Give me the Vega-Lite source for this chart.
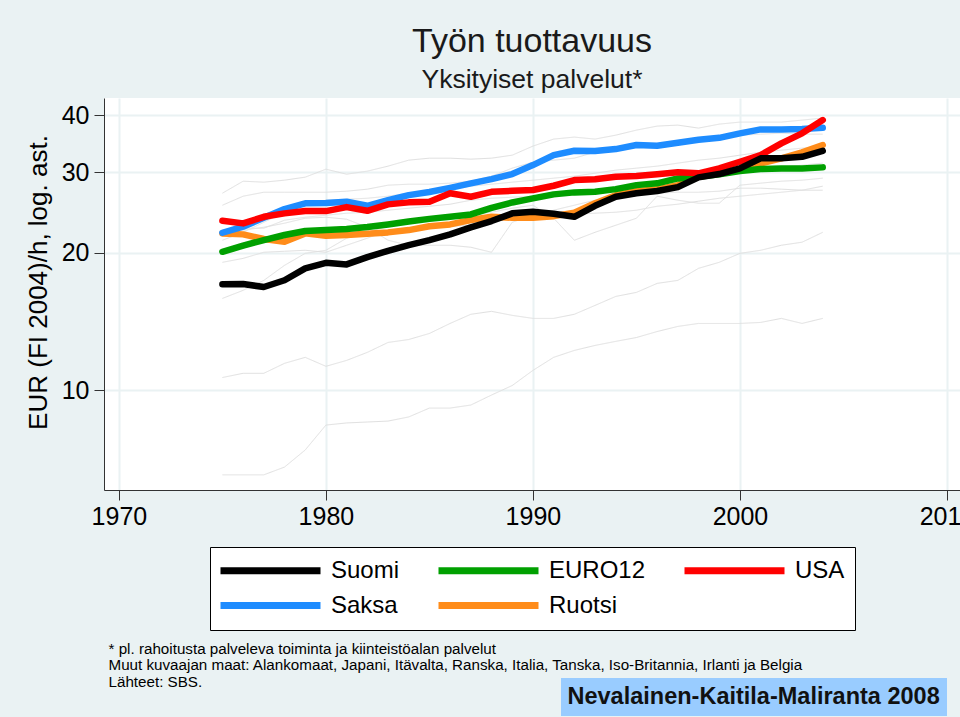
{
"$schema": "https://vega.github.io/schema/vega-lite/v6.json",
"width": 856, "height": 392,
"autosize": {"type": "none"},
"padding": {"left": 104, "top": 98, "right": 0, "bottom": 227},
"background": "#eaf2f3",
"config": {
 "font": "Liberation Sans",
 "view": {"fill": "white", "stroke": null},
 "axis": {"domainColor": "#333333", "domainWidth": 1, "tickColor": "#333333", "tickSize": 10, "tickWidth": 1, "labelFontSize": 25, "labelColor": "#000000", "gridColor": "#eaf2f3", "gridWidth": 2, "titleFontWeight": "normal", "titleColor": "#000000", "labelFlush": false}
},
"title": {"text": "Työn tuottavuus", "subtitle": "Yksityiset palvelut*", "fontSize": 34, "fontWeight": "normal", "subtitleFontSize": 26.5, "color": "#1a1a1a", "subtitleColor": "#1a1a1a", "anchor": "middle", "frame": "group", "offset": 5, "subtitlePadding": 8},
"datasets": {
"muut": [
{"maa":"Belgia","vuosi":1975,"arvo":26.98},{"maa":"Belgia","vuosi":1976,"arvo":28.66},{"maa":"Belgia","vuosi":1977,"arvo":28.52},{"maa":"Belgia","vuosi":1978,"arvo":28.81},{"maa":"Belgia","vuosi":1979,"arvo":29.25},{"maa":"Belgia","vuosi":1980,"arvo":30.45},{"maa":"Belgia","vuosi":1981,"arvo":29.69},{"maa":"Belgia","vuosi":1982,"arvo":30.15},{"maa":"Belgia","vuosi":1983,"arvo":30.92},{"maa":"Belgia","vuosi":1984,"arvo":31.87},{"maa":"Belgia","vuosi":1985,"arvo":32.19},{"maa":"Belgia","vuosi":1986,"arvo":32.19},{"maa":"Belgia","vuosi":1987,"arvo":32.03},{"maa":"Belgia","vuosi":1988,"arvo":32.19},{"maa":"Belgia","vuosi":1989,"arvo":32.68},{"maa":"Belgia","vuosi":1990,"arvo":34.21},{"maa":"Belgia","vuosi":1991,"arvo":35.44},{"maa":"Belgia","vuosi":1992,"arvo":35.80},{"maa":"Belgia","vuosi":1993,"arvo":35.44},{"maa":"Belgia","vuosi":1994,"arvo":36.15},{"maa":"Belgia","vuosi":1995,"arvo":37.08},{"maa":"Belgia","vuosi":1996,"arvo":37.84},{"maa":"Belgia","vuosi":1997,"arvo":38.03},{"maa":"Belgia","vuosi":1998,"arvo":37.46},{"maa":"Belgia","vuosi":1999,"arvo":38.22},{"maa":"Belgia","vuosi":2000,"arvo":38.61},{"maa":"Belgia","vuosi":2001,"arvo":38.61},{"maa":"Belgia","vuosi":2002,"arvo":38.61},{"maa":"Belgia","vuosi":2003,"arvo":39.00},{"maa":"Belgia","vuosi":2004,"arvo":39.40},
{"maa":"Alankomaat","vuosi":1975,"arvo":25.39},{"maa":"Alankomaat","vuosi":1976,"arvo":26.57},{"maa":"Alankomaat","vuosi":1977,"arvo":27.11},{"maa":"Alankomaat","vuosi":1978,"arvo":27.11},{"maa":"Alankomaat","vuosi":1979,"arvo":27.11},{"maa":"Alankomaat","vuosi":1980,"arvo":27.11},{"maa":"Alankomaat","vuosi":1981,"arvo":27.25},{"maa":"Alankomaat","vuosi":1982,"arvo":27.53},{"maa":"Alankomaat","vuosi":1983,"arvo":28.09},{"maa":"Alankomaat","vuosi":1984,"arvo":28.23},{"maa":"Alankomaat","vuosi":1985,"arvo":28.23},{"maa":"Alankomaat","vuosi":1986,"arvo":28.38},{"maa":"Alankomaat","vuosi":1987,"arvo":28.66},{"maa":"Alankomaat","vuosi":1988,"arvo":29.39},{"maa":"Alankomaat","vuosi":1989,"arvo":30.61},{"maa":"Alankomaat","vuosi":1990,"arvo":31.55},{"maa":"Alankomaat","vuosi":1991,"arvo":31.87},{"maa":"Alankomaat","vuosi":1992,"arvo":32.19},{"maa":"Alankomaat","vuosi":1993,"arvo":33.18},{"maa":"Alankomaat","vuosi":1994,"arvo":33.52},{"maa":"Alankomaat","vuosi":1995,"arvo":34.03},{"maa":"Alankomaat","vuosi":1996,"arvo":34.38},{"maa":"Alankomaat","vuosi":1997,"arvo":34.73},{"maa":"Alankomaat","vuosi":1998,"arvo":35.26},{"maa":"Alankomaat","vuosi":1999,"arvo":35.62},{"maa":"Alankomaat","vuosi":2000,"arvo":36.15},{"maa":"Alankomaat","vuosi":2001,"arvo":36.33},{"maa":"Alankomaat","vuosi":2002,"arvo":36.52},{"maa":"Alankomaat","vuosi":2003,"arvo":36.33},{"maa":"Alankomaat","vuosi":2004,"arvo":36.33},
{"maa":"Ranska","vuosi":1975,"arvo":22.38},{"maa":"Ranska","vuosi":1976,"arvo":22.61},{"maa":"Ranska","vuosi":1977,"arvo":22.61},{"maa":"Ranska","vuosi":1978,"arvo":23.54},{"maa":"Ranska","vuosi":1979,"arvo":23.90},{"maa":"Ranska","vuosi":1980,"arvo":24.14},{"maa":"Ranska","vuosi":1981,"arvo":24.39},{"maa":"Ranska","vuosi":1982,"arvo":24.51},{"maa":"Ranska","vuosi":1983,"arvo":24.76},{"maa":"Ranska","vuosi":1984,"arvo":25.01},{"maa":"Ranska","vuosi":1985,"arvo":25.26},{"maa":"Ranska","vuosi":1986,"arvo":25.52},{"maa":"Ranska","vuosi":1987,"arvo":26.04},{"maa":"Ranska","vuosi":1988,"arvo":26.30},{"maa":"Ranska","vuosi":1989,"arvo":26.44},{"maa":"Ranska","vuosi":1990,"arvo":26.57},{"maa":"Ranska","vuosi":1991,"arvo":26.70},{"maa":"Ranska","vuosi":1992,"arvo":26.84},{"maa":"Ranska","vuosi":1993,"arvo":26.98},{"maa":"Ranska","vuosi":1994,"arvo":27.39},{"maa":"Ranska","vuosi":1995,"arvo":27.95},{"maa":"Ranska","vuosi":1996,"arvo":28.38},{"maa":"Ranska","vuosi":1997,"arvo":28.81},{"maa":"Ranska","vuosi":1998,"arvo":29.10},{"maa":"Ranska","vuosi":1999,"arvo":29.39},{"maa":"Ranska","vuosi":2000,"arvo":29.99},{"maa":"Ranska","vuosi":2001,"arvo":30.61},{"maa":"Ranska","vuosi":2002,"arvo":30.76},{"maa":"Ranska","vuosi":2003,"arvo":31.07},{"maa":"Ranska","vuosi":2004,"arvo":31.39},
{"maa":"Itävalta","vuosi":1975,"arvo":15.87},{"maa":"Itävalta","vuosi":1976,"arvo":16.53},{"maa":"Itävalta","vuosi":1977,"arvo":17.38},{"maa":"Itävalta","vuosi":1978,"arvo":18.75},{"maa":"Itävalta","vuosi":1979,"arvo":19.92},{"maa":"Itävalta","vuosi":1980,"arvo":20.23},{"maa":"Itävalta","vuosi":1981,"arvo":21.50},{"maa":"Itävalta","vuosi":1982,"arvo":22.15},{"maa":"Itävalta","vuosi":1983,"arvo":22.84},{"maa":"Itävalta","vuosi":1984,"arvo":23.30},{"maa":"Itävalta","vuosi":1985,"arvo":23.54},{"maa":"Itävalta","vuosi":1986,"arvo":23.78},{"maa":"Itävalta","vuosi":1987,"arvo":24.14},{"maa":"Itävalta","vuosi":1988,"arvo":24.51},{"maa":"Itävalta","vuosi":1989,"arvo":25.01},{"maa":"Itävalta","vuosi":1990,"arvo":25.39},{"maa":"Itävalta","vuosi":1991,"arvo":23.78},{"maa":"Itävalta","vuosi":1992,"arvo":21.28},{"maa":"Itävalta","vuosi":1993,"arvo":22.15},{"maa":"Itävalta","vuosi":1994,"arvo":22.95},{"maa":"Itävalta","vuosi":1995,"arvo":23.78},{"maa":"Itävalta","vuosi":1996,"arvo":26.57},{"maa":"Itävalta","vuosi":1997,"arvo":26.04},{"maa":"Itävalta","vuosi":1998,"arvo":25.65},{"maa":"Itävalta","vuosi":1999,"arvo":25.65},{"maa":"Itävalta","vuosi":2000,"arvo":28.09},{"maa":"Itävalta","vuosi":2001,"arvo":28.38},{"maa":"Itävalta","vuosi":2002,"arvo":28.66},{"maa":"Itävalta","vuosi":2003,"arvo":28.81},{"maa":"Itävalta","vuosi":2004,"arvo":29.10},
{"maa":"Italia","vuosi":1975,"arvo":22.15},{"maa":"Italia","vuosi":1976,"arvo":22.38},{"maa":"Italia","vuosi":1977,"arvo":22.72},{"maa":"Italia","vuosi":1978,"arvo":23.19},{"maa":"Italia","vuosi":1979,"arvo":23.78},{"maa":"Italia","vuosi":1980,"arvo":23.90},{"maa":"Italia","vuosi":1981,"arvo":23.66},{"maa":"Italia","vuosi":1982,"arvo":22.72},{"maa":"Italia","vuosi":1983,"arvo":21.28},{"maa":"Italia","vuosi":1984,"arvo":20.75},{"maa":"Italia","vuosi":1985,"arvo":20.75},{"maa":"Italia","vuosi":1986,"arvo":20.75},{"maa":"Italia","vuosi":1987,"arvo":20.54},{"maa":"Italia","vuosi":1988,"arvo":20.03},{"maa":"Italia","vuosi":1989,"arvo":23.30},{"maa":"Italia","vuosi":1990,"arvo":24.14},{"maa":"Italia","vuosi":1991,"arvo":24.76},{"maa":"Italia","vuosi":1992,"arvo":25.39},{"maa":"Italia","vuosi":1993,"arvo":26.04},{"maa":"Italia","vuosi":1994,"arvo":26.44},{"maa":"Italia","vuosi":1995,"arvo":26.70},{"maa":"Italia","vuosi":1996,"arvo":26.98},{"maa":"Italia","vuosi":1997,"arvo":27.11},{"maa":"Italia","vuosi":1998,"arvo":27.11},{"maa":"Italia","vuosi":1999,"arvo":27.25},{"maa":"Italia","vuosi":2000,"arvo":27.67},{"maa":"Italia","vuosi":2001,"arvo":27.67},{"maa":"Italia","vuosi":2002,"arvo":27.53},{"maa":"Italia","vuosi":2003,"arvo":27.39},{"maa":"Italia","vuosi":2004,"arvo":27.39},
{"maa":"Tanska","vuosi":1975,"arvo":21.28},{"maa":"Tanska","vuosi":1976,"arvo":22.15},{"maa":"Tanska","vuosi":1977,"arvo":23.30},{"maa":"Tanska","vuosi":1978,"arvo":24.51},{"maa":"Tanska","vuosi":1979,"arvo":25.39},{"maa":"Tanska","vuosi":1980,"arvo":26.04},{"maa":"Tanska","vuosi":1981,"arvo":26.17},{"maa":"Tanska","vuosi":1982,"arvo":26.30},{"maa":"Tanska","vuosi":1983,"arvo":26.57},{"maa":"Tanska","vuosi":1984,"arvo":26.98},{"maa":"Tanska","vuosi":1985,"arvo":27.39},{"maa":"Tanska","vuosi":1986,"arvo":27.67},{"maa":"Tanska","vuosi":1987,"arvo":27.95},{"maa":"Tanska","vuosi":1988,"arvo":28.23},{"maa":"Tanska","vuosi":1989,"arvo":28.52},{"maa":"Tanska","vuosi":1990,"arvo":28.81},{"maa":"Tanska","vuosi":1991,"arvo":29.10},{"maa":"Tanska","vuosi":1992,"arvo":29.39},{"maa":"Tanska","vuosi":1993,"arvo":29.84},{"maa":"Tanska","vuosi":1994,"arvo":30.30},{"maa":"Tanska","vuosi":1995,"arvo":30.61},{"maa":"Tanska","vuosi":1996,"arvo":30.92},{"maa":"Tanska","vuosi":1997,"arvo":31.39},{"maa":"Tanska","vuosi":1998,"arvo":31.87},{"maa":"Tanska","vuosi":1999,"arvo":32.19},{"maa":"Tanska","vuosi":2000,"arvo":32.68},{"maa":"Tanska","vuosi":2001,"arvo":33.18},{"maa":"Tanska","vuosi":2002,"arvo":33.52},{"maa":"Tanska","vuosi":2003,"arvo":33.86},{"maa":"Tanska","vuosi":2004,"arvo":34.03},
{"maa":"Japani","vuosi":1975,"arvo":10.65},{"maa":"Japani","vuosi":1976,"arvo":10.88},{"maa":"Japani","vuosi":1977,"arvo":10.88},{"maa":"Japani","vuosi":1978,"arvo":11.44},{"maa":"Japani","vuosi":1979,"arvo":11.79},{"maa":"Japani","vuosi":1980,"arvo":11.27},{"maa":"Japani","vuosi":1981,"arvo":11.61},{"maa":"Japani","vuosi":1982,"arvo":12.09},{"maa":"Japani","vuosi":1983,"arvo":12.71},{"maa":"Japani","vuosi":1984,"arvo":12.90},{"maa":"Japani","vuosi":1985,"arvo":13.30},{"maa":"Japani","vuosi":1986,"arvo":13.99},{"maa":"Japani","vuosi":1987,"arvo":14.65},{"maa":"Japani","vuosi":1988,"arvo":14.87},{"maa":"Japani","vuosi":1989,"arvo":14.57},{"maa":"Japani","vuosi":1990,"arvo":14.35},{"maa":"Japani","vuosi":1991,"arvo":14.35},{"maa":"Japani","vuosi":1992,"arvo":14.65},{"maa":"Japani","vuosi":1993,"arvo":15.32},{"maa":"Japani","vuosi":1994,"arvo":16.03},{"maa":"Japani","vuosi":1995,"arvo":16.36},{"maa":"Japani","vuosi":1996,"arvo":17.12},{"maa":"Japani","vuosi":1997,"arvo":17.38},{"maa":"Japani","vuosi":1998,"arvo":18.47},{"maa":"Japani","vuosi":1999,"arvo":19.04},{"maa":"Japani","vuosi":2000,"arvo":19.92},{"maa":"Japani","vuosi":2001,"arvo":20.23},{"maa":"Japani","vuosi":2002,"arvo":20.75},{"maa":"Japani","vuosi":2003,"arvo":21.07},{"maa":"Japani","vuosi":2004,"arvo":22.15},
{"maa":"Irlanti","vuosi":1975,"arvo":6.52},{"maa":"Irlanti","vuosi":1976,"arvo":6.52},{"maa":"Irlanti","vuosi":1977,"arvo":6.52},{"maa":"Irlanti","vuosi":1978,"arvo":6.78},{"maa":"Irlanti","vuosi":1979,"arvo":7.39},{"maa":"Irlanti","vuosi":1980,"arvo":8.38},{"maa":"Irlanti","vuosi":1981,"arvo":8.47},{"maa":"Irlanti","vuosi":1982,"arvo":8.51},{"maa":"Irlanti","vuosi":1983,"arvo":8.55},{"maa":"Irlanti","vuosi":1984,"arvo":8.73},{"maa":"Irlanti","vuosi":1985,"arvo":9.13},{"maa":"Irlanti","vuosi":1986,"arvo":9.13},{"maa":"Irlanti","vuosi":1987,"arvo":9.27},{"maa":"Irlanti","vuosi":1988,"arvo":9.75},{"maa":"Irlanti","vuosi":1989,"arvo":10.23},{"maa":"Irlanti","vuosi":1990,"arvo":11.04},{"maa":"Irlanti","vuosi":1991,"arvo":11.79},{"maa":"Irlanti","vuosi":1992,"arvo":12.21},{"maa":"Irlanti","vuosi":1993,"arvo":12.52},{"maa":"Irlanti","vuosi":1994,"arvo":12.78},{"maa":"Irlanti","vuosi":1995,"arvo":13.03},{"maa":"Irlanti","vuosi":1996,"arvo":13.43},{"maa":"Irlanti","vuosi":1997,"arvo":13.78},{"maa":"Irlanti","vuosi":1998,"arvo":13.99},{"maa":"Irlanti","vuosi":1999,"arvo":13.99},{"maa":"Irlanti","vuosi":2000,"arvo":13.99},{"maa":"Irlanti","vuosi":2001,"arvo":14.06},{"maa":"Irlanti","vuosi":2002,"arvo":14.35},{"maa":"Irlanti","vuosi":2003,"arvo":13.99},{"maa":"Irlanti","vuosi":2004,"arvo":14.35},
{"maa":"Iso-Britannia","vuosi":1975,"arvo":19.04},{"maa":"Iso-Britannia","vuosi":1976,"arvo":19.42},{"maa":"Iso-Britannia","vuosi":1977,"arvo":20.03},{"maa":"Iso-Britannia","vuosi":1978,"arvo":20.13},{"maa":"Iso-Britannia","vuosi":1979,"arvo":20.23},{"maa":"Iso-Britannia","vuosi":1980,"arvo":20.03},{"maa":"Iso-Britannia","vuosi":1981,"arvo":20.75},{"maa":"Iso-Britannia","vuosi":1982,"arvo":21.50},{"maa":"Iso-Britannia","vuosi":1983,"arvo":22.38},{"maa":"Iso-Britannia","vuosi":1984,"arvo":22.61},{"maa":"Iso-Britannia","vuosi":1985,"arvo":22.84},{"maa":"Iso-Britannia","vuosi":1986,"arvo":22.84},{"maa":"Iso-Britannia","vuosi":1987,"arvo":22.95},{"maa":"Iso-Britannia","vuosi":1988,"arvo":23.30},{"maa":"Iso-Britannia","vuosi":1989,"arvo":23.78},{"maa":"Iso-Britannia","vuosi":1990,"arvo":24.26},{"maa":"Iso-Britannia","vuosi":1991,"arvo":24.51},{"maa":"Iso-Britannia","vuosi":1992,"arvo":24.26},{"maa":"Iso-Britannia","vuosi":1993,"arvo":24.39},{"maa":"Iso-Britannia","vuosi":1994,"arvo":24.51},{"maa":"Iso-Britannia","vuosi":1995,"arvo":24.76},{"maa":"Iso-Britannia","vuosi":1996,"arvo":25.26},{"maa":"Iso-Britannia","vuosi":1997,"arvo":25.52},{"maa":"Iso-Britannia","vuosi":1998,"arvo":25.91},{"maa":"Iso-Britannia","vuosi":1999,"arvo":26.30},{"maa":"Iso-Britannia","vuosi":2000,"arvo":26.57},{"maa":"Iso-Britannia","vuosi":2001,"arvo":26.84},{"maa":"Iso-Britannia","vuosi":2002,"arvo":27.11},{"maa":"Iso-Britannia","vuosi":2003,"arvo":27.39},{"maa":"Iso-Britannia","vuosi":2004,"arvo":27.95}
],
"paa": [
{"maa":"Ruotsi","vuosi":1975,"arvo":22.03},{"maa":"Ruotsi","vuosi":1976,"arvo":21.92},{"maa":"Ruotsi","vuosi":1977,"arvo":21.41},{"maa":"Ruotsi","vuosi":1978,"arvo":21.12},{"maa":"Ruotsi","vuosi":1979,"arvo":22.03},{"maa":"Ruotsi","vuosi":1980,"arvo":21.77},{"maa":"Ruotsi","vuosi":1981,"arvo":21.85},{"maa":"Ruotsi","vuosi":1982,"arvo":21.99},{"maa":"Ruotsi","vuosi":1983,"arvo":22.14},{"maa":"Ruotsi","vuosi":1984,"arvo":22.40},{"maa":"Ruotsi","vuosi":1985,"arvo":22.83},{"maa":"Ruotsi","vuosi":1986,"arvo":23.05},{"maa":"Ruotsi","vuosi":1987,"arvo":23.56},{"maa":"Ruotsi","vuosi":1988,"arvo":23.95},{"maa":"Ruotsi","vuosi":1989,"arvo":23.83},{"maa":"Ruotsi","vuosi":1990,"arvo":23.83},{"maa":"Ruotsi","vuosi":1991,"arvo":24.03},{"maa":"Ruotsi","vuosi":1992,"arvo":24.45},{"maa":"Ruotsi","vuosi":1993,"arvo":25.65},{"maa":"Ruotsi","vuosi":1994,"arvo":26.70},{"maa":"Ruotsi","vuosi":1995,"arvo":27.25},{"maa":"Ruotsi","vuosi":1996,"arvo":27.51},{"maa":"Ruotsi","vuosi":1997,"arvo":28.10},{"maa":"Ruotsi","vuosi":1998,"arvo":29.31},{"maa":"Ruotsi","vuosi":1999,"arvo":29.82},{"maa":"Ruotsi","vuosi":2000,"arvo":30.47},{"maa":"Ruotsi","vuosi":2001,"arvo":31.35},{"maa":"Ruotsi","vuosi":2002,"arvo":32.16},{"maa":"Ruotsi","vuosi":2003,"arvo":33.15},{"maa":"Ruotsi","vuosi":2004,"arvo":34.39},
{"maa":"EURO12","vuosi":1975,"arvo":20.08},{"maa":"EURO12","vuosi":1976,"arvo":20.70},{"maa":"EURO12","vuosi":1977,"arvo":21.30},{"maa":"EURO12","vuosi":1978,"arvo":21.85},{"maa":"EURO12","vuosi":1979,"arvo":22.29},{"maa":"EURO12","vuosi":1980,"arvo":22.40},{"maa":"EURO12","vuosi":1981,"arvo":22.52},{"maa":"EURO12","vuosi":1982,"arvo":22.74},{"maa":"EURO12","vuosi":1983,"arvo":23.05},{"maa":"EURO12","vuosi":1984,"arvo":23.40},{"maa":"EURO12","vuosi":1985,"arvo":23.70},{"maa":"EURO12","vuosi":1986,"arvo":23.95},{"maa":"EURO12","vuosi":1987,"arvo":24.24},{"maa":"EURO12","vuosi":1988,"arvo":25.06},{"maa":"EURO12","vuosi":1989,"arvo":25.75},{"maa":"EURO12","vuosi":1990,"arvo":26.28},{"maa":"EURO12","vuosi":1991,"arvo":26.82},{"maa":"EURO12","vuosi":1992,"arvo":27.09},{"maa":"EURO12","vuosi":1993,"arvo":27.17},{"maa":"EURO12","vuosi":1994,"arvo":27.54},{"maa":"EURO12","vuosi":1995,"arvo":28.10},{"maa":"EURO12","vuosi":1996,"arvo":28.35},{"maa":"EURO12","vuosi":1997,"arvo":29.07},{"maa":"EURO12","vuosi":1998,"arvo":29.31},{"maa":"EURO12","vuosi":1999,"arvo":29.67},{"maa":"EURO12","vuosi":2000,"arvo":30.16},{"maa":"EURO12","vuosi":2001,"arvo":30.47},{"maa":"EURO12","vuosi":2002,"arvo":30.57},{"maa":"EURO12","vuosi":2003,"arvo":30.57},{"maa":"EURO12","vuosi":2004,"arvo":30.73},
{"maa":"Saksa","vuosi":1975,"arvo":22.10},{"maa":"Saksa","vuosi":1976,"arvo":22.79},{"maa":"Saksa","vuosi":1977,"arvo":23.83},{"maa":"Saksa","vuosi":1978,"arvo":24.90},{"maa":"Saksa","vuosi":1979,"arvo":25.63},{"maa":"Saksa","vuosi":1980,"arvo":25.67},{"maa":"Saksa","vuosi":1981,"arvo":25.84},{"maa":"Saksa","vuosi":1982,"arvo":25.32},{"maa":"Saksa","vuosi":1983,"arvo":26.06},{"maa":"Saksa","vuosi":1984,"arvo":26.72},{"maa":"Saksa","vuosi":1985,"arvo":27.15},{"maa":"Saksa","vuosi":1986,"arvo":27.72},{"maa":"Saksa","vuosi":1987,"arvo":28.35},{"maa":"Saksa","vuosi":1988,"arvo":28.97},{"maa":"Saksa","vuosi":1989,"arvo":29.71},{"maa":"Saksa","vuosi":1990,"arvo":31.09},{"maa":"Saksa","vuosi":1991,"arvo":32.69},{"maa":"Saksa","vuosi":1992,"arvo":33.41},{"maa":"Saksa","vuosi":1993,"arvo":33.36},{"maa":"Saksa","vuosi":1994,"arvo":33.70},{"maa":"Saksa","vuosi":1995,"arvo":34.39},{"maa":"Saksa","vuosi":1996,"arvo":34.26},{"maa":"Saksa","vuosi":1997,"arvo":34.78},{"maa":"Saksa","vuosi":1998,"arvo":35.31},{"maa":"Saksa","vuosi":1999,"arvo":35.67},{"maa":"Saksa","vuosi":2000,"arvo":36.48},{"maa":"Saksa","vuosi":2001,"arvo":37.21},{"maa":"Saksa","vuosi":2002,"arvo":37.21},{"maa":"Saksa","vuosi":2003,"arvo":37.27},{"maa":"Saksa","vuosi":2004,"arvo":37.51},
{"maa":"USA","vuosi":1975,"arvo":23.48},{"maa":"USA","vuosi":1976,"arvo":23.17},{"maa":"USA","vuosi":1977,"arvo":23.95},{"maa":"USA","vuosi":1978,"arvo":24.37},{"maa":"USA","vuosi":1979,"arvo":24.65},{"maa":"USA","vuosi":1980,"arvo":24.65},{"maa":"USA","vuosi":1981,"arvo":25.15},{"maa":"USA","vuosi":1982,"arvo":24.69},{"maa":"USA","vuosi":1983,"arvo":25.50},{"maa":"USA","vuosi":1984,"arvo":25.76},{"maa":"USA","vuosi":1985,"arvo":25.84},{"maa":"USA","vuosi":1986,"arvo":26.96},{"maa":"USA","vuosi":1987,"arvo":26.50},{"maa":"USA","vuosi":1988,"arvo":27.17},{"maa":"USA","vuosi":1989,"arvo":27.31},{"maa":"USA","vuosi":1990,"arvo":27.41},{"maa":"USA","vuosi":1991,"arvo":28.01},{"maa":"USA","vuosi":1992,"arvo":28.82},{"maa":"USA","vuosi":1993,"arvo":28.93},{"maa":"USA","vuosi":1994,"arvo":29.31},{"maa":"USA","vuosi":1995,"arvo":29.41},{"maa":"USA","vuosi":1996,"arvo":29.67},{"maa":"USA","vuosi":1997,"arvo":29.97},{"maa":"USA","vuosi":1998,"arvo":29.82},{"maa":"USA","vuosi":1999,"arvo":30.57},{"maa":"USA","vuosi":2000,"arvo":31.61},{"maa":"USA","vuosi":2001,"arvo":32.69},{"maa":"USA","vuosi":2002,"arvo":34.68},{"maa":"USA","vuosi":2003,"arvo":36.48},{"maa":"USA","vuosi":2004,"arvo":39.00},
{"maa":"Suomi","vuosi":1975,"arvo":17.04},{"maa":"Suomi","vuosi":1976,"arvo":17.06},{"maa":"Suomi","vuosi":1977,"arvo":16.81},{"maa":"Suomi","vuosi":1978,"arvo":17.39},{"maa":"Suomi","vuosi":1979,"arvo":18.47},{"maa":"Suomi","vuosi":1980,"arvo":18.99},{"maa":"Suomi","vuosi":1981,"arvo":18.84},{"maa":"Suomi","vuosi":1982,"arvo":19.55},{"maa":"Suomi","vuosi":1983,"arvo":20.18},{"maa":"Suomi","vuosi":1984,"arvo":20.77},{"maa":"Suomi","vuosi":1985,"arvo":21.30},{"maa":"Suomi","vuosi":1986,"arvo":21.92},{"maa":"Suomi","vuosi":1987,"arvo":22.71},{"maa":"Suomi","vuosi":1988,"arvo":23.44},{"maa":"Suomi","vuosi":1989,"arvo":24.37},{"maa":"Suomi","vuosi":1990,"arvo":24.57},{"maa":"Suomi","vuosi":1991,"arvo":24.32},{"maa":"Suomi","vuosi":1992,"arvo":23.95},{"maa":"Suomi","vuosi":1993,"arvo":25.32},{"maa":"Suomi","vuosi":1994,"arvo":26.50},{"maa":"Suomi","vuosi":1995,"arvo":26.96},{"maa":"Suomi","vuosi":1996,"arvo":27.27},{"maa":"Suomi","vuosi":1997,"arvo":27.82},{"maa":"Suomi","vuosi":1998,"arvo":29.22},{"maa":"Suomi","vuosi":1999,"arvo":29.71},{"maa":"Suomi","vuosi":2000,"arvo":30.57},{"maa":"Suomi","vuosi":2001,"arvo":32.16},{"maa":"Suomi","vuosi":2002,"arvo":32.16},{"maa":"Suomi","vuosi":2003,"arvo":32.42},{"maa":"Suomi","vuosi":2004,"arvo":33.41}
]
},
"encoding": {
 "x": {"field": "vuosi", "type": "quantitative",
  "scale": {"domain": [1969.28, 2010.63], "nice": false, "zero": false},
  "axis": {"values": [1970, 1980, 1990, 2000, 2010], "format": "d", "labelPadding": 4,
   "title": ["* pl. rahoitusta palveleva toiminta ja kiinteistöalan palvelut", "Muut kuvaajan maat: Alankomaat, Japani, Itävalta, Ranska, Italia, Tanska, Iso-Britannia, Irlanti ja Belgia", "Lähteet: SBS."],
   "titleFontSize": 15.2, "titleLineHeight": 16.5, "titleAlign": "left", "titleAnchor": "start", "titleBaseline": "alphabetic", "titleX": 4, "titleY": 163}},
 "y": {"field": "arvo", "type": "quantitative",
  "scale": {"type": "log", "domain": [6.04, 43.6], "nice": false},
  "axis": {"values": [10, 20, 30, 40], "labelPadding": 5, "title": "EUR (FI 2004)/h, log. ast.", "titleFontSize": 26, "titlePadding": 10, "titleY": 184}}
},
"layer": [
 {"data": {"name": "muut"},
  "mark": {"type": "line", "stroke": "#e0e0e0", "strokeWidth": 1},
  "encoding": {
   "detail": {"field": "maa", "type": "nominal"},
   "strokeDash": {"datum": "Nevalainen-Kaitila-Maliranta 2008", "type": "nominal", "scale": {"range": [[1, 0]]},
    "legend": {"orient": "none", "legendX": 457, "legendY": 580, "title": null, "symbolSize": 0, "symbolStrokeWidth": 0, "symbolOpacity": 0, "labelOffset": -24, "labelFontSize": 23.5, "labelFontWeight": "bold", "labelColor": "#111111", "labelLimit": 600, "fillColor": "#99ccff", "padding": 7}}
  }},
 {"data": {"name": "paa"},
  "mark": {"type": "line", "strokeWidth": 6.5, "strokeCap": "round", "strokeJoin": "round"},
  "encoding": {
   "color": {"field": "maa", "type": "nominal",
    "scale": {"domain": ["Suomi", "EURO12", "USA", "Saksa", "Ruotsi"], "range": ["#000000", "#00a000", "#ff0000", "#1e8cff", "#ff8c1a"]},
    "legend": {"orient": "none", "legendX": 106, "legendY": 449, "direction": "horizontal", "columns": 3, "title": null, "symbolType": "M-5,0H5", "symbolSize": 400, "symbolStrokeWidth": 7, "symbolOffset": 37, "labelFontSize": 24, "labelOffset": 47, "columnPadding": 24, "rowPadding": 6, "padding": 10, "fillColor": "#ffffff", "strokeColor": "#000000", "labelColor": "#000000", "labelLimit": 300}}
  }}
]
}
